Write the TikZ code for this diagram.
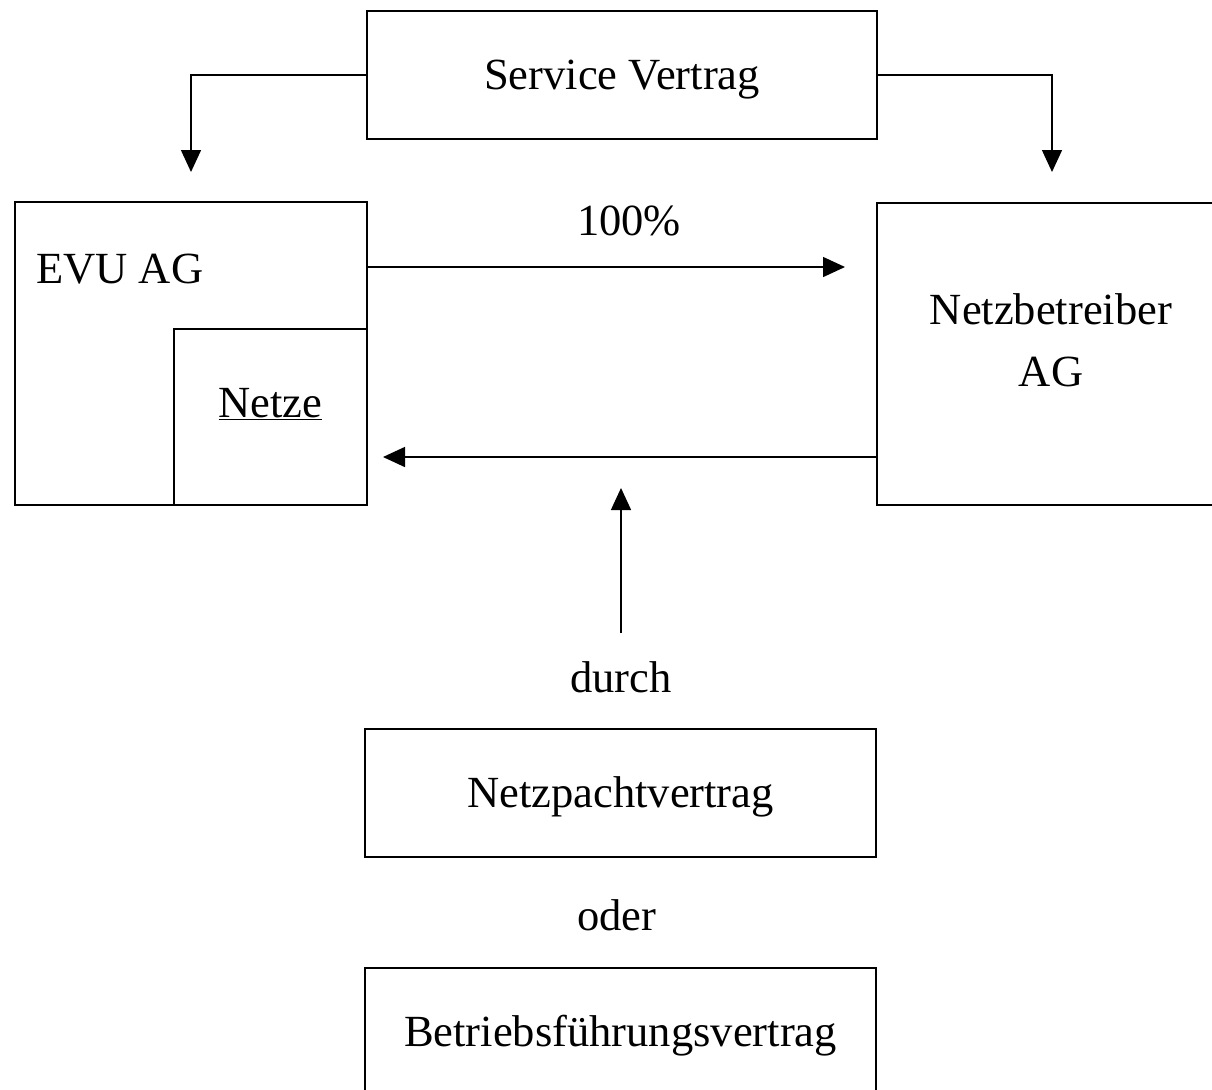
\documentclass[tikz,border=0pt]{standalone}
\usepackage{fontspec}
\setmainfont{Liberation Serif}
\usetikzlibrary{arrows.meta}
\tikzset{
  box/.style={draw, line width=1.1pt, inner sep=0pt, text height=22pt, text depth=0pt},
  lbl/.style={inner sep=0pt, anchor=base},
  arr/.style={line width=1.1pt, -{Triangle[length=16.5pt,width=15pt]}},
  ln/.style={line width=1.1pt}
}
\begin{document}
\begin{tikzpicture}[x=0.75pt, y=-0.75pt, font=\fontsize{33.4}{46.5}\selectfont]
\clip (0,0) rectangle (1212,1089);
\fill[white] (0,0) rectangle (1212,1089);
% boxes
\node[box, minimum width=382.5pt, minimum height=96pt] (sv) at (622,75) {Service Vertrag};
\node[box, minimum width=264pt, minimum height=227.25pt] (evu) at (191,353.5) {};
\node[box, minimum width=144.75pt, minimum height=132pt] (netze) at (270.5,417) {};
\node[box, minimum width=253.5pt, minimum height=226.5pt] (nb) at (1046,354) {};
\node[box, minimum width=383.25pt, minimum height=96pt] (np) at (620.5,793) {Netzpachtvertrag};
\node[box, minimum width=383.25pt, minimum height=96pt] (bf) at (620.5,1032) {Betriebsführungsvertrag};
% labels
\node[lbl, anchor=base west] (evul) at (36,283) {EVU AG};
\node[lbl] (netzel) at (270.5,417) {\underline{Netze}};
\node[inner sep=0pt, align=center, anchor=north] (nbl) at (1051,293) {Netzbetreiber\\AG};
\node[lbl] (pct) at (629,235) {100\%};
\node[lbl] (durch) at (621,692) {durch};
\node[lbl] (oder) at (617,930) {oder};
% connectors
\coordinate (tl) at (191,172);
\coordinate (tr) at (1052,172);
\draw[arr] (sv.west) -| (tl);
\draw[arr] (sv.east) -| (tr);
\coordinate (a1) at (845,267);
\draw[arr] (a1 -| evu.east) -- (a1);
\coordinate (a2) at (383,457);
\draw[arr] (a2 -| nb.west) -- (a2);
\coordinate (u0) at (621,633);
\coordinate (u1) at (621,488);
\draw[arr] (u0) -- (u1);
\end{tikzpicture}
\end{document}
